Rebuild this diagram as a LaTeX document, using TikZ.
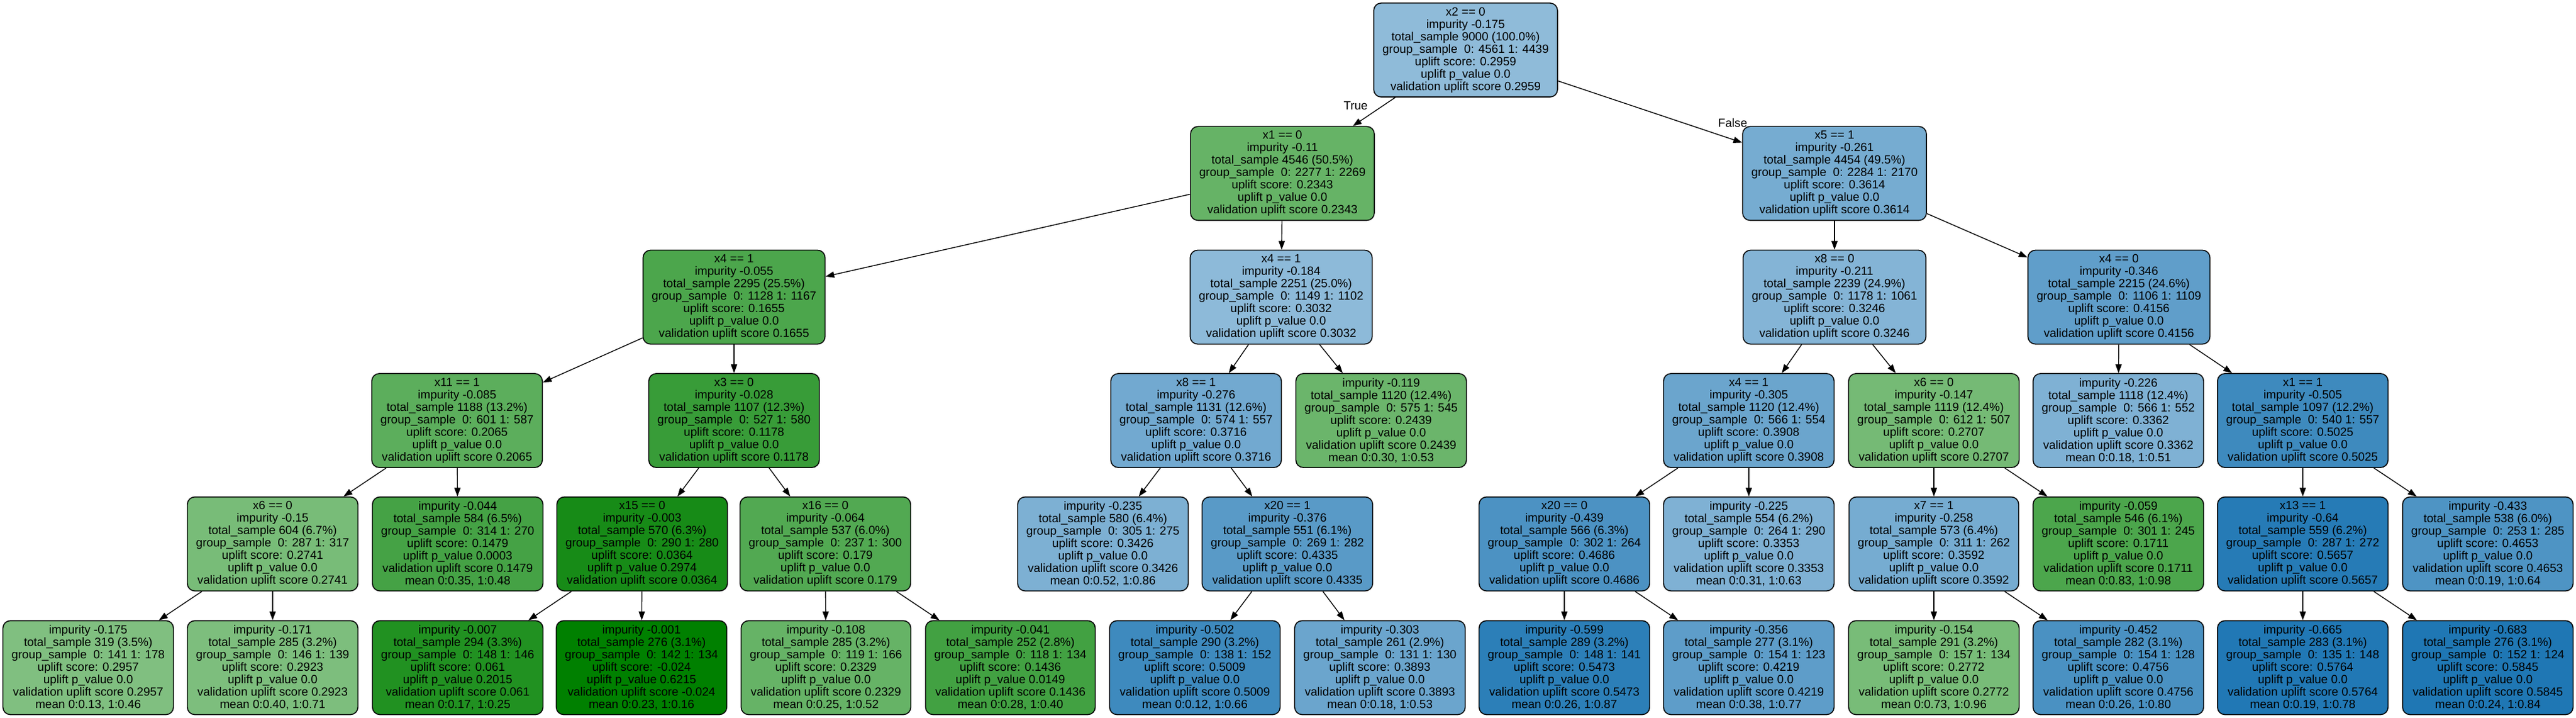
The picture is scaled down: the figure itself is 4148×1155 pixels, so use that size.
\documentclass[tikz,border=0pt]{standalone}
\usepackage{fontspec}
\setmainfont{Liberation Sans}
\usepackage{xcolor}
\usepackage{tikz}
\usetikzlibrary{arrows.meta}

\definecolor{upblue}{RGB}{31,119,180}
\definecolor{upgreen}{RGB}{0,128,0}

\begin{document}
\begin{tikzpicture}[x=0.01cm, y=-0.01cm,
    treenode/.style={draw, line width=0.45pt, rounded corners=0.12cm, align=center,
      inner xsep=0.14cm, inner ysep=0.05cm, minimum height=1.51cm,
      font=\fontsize{5.43}{5.69}\selectfont},
    branch/.style={-{Triangle[length=0.14cm, width=0.1cm]}, line width=0.4pt},
    branchlabel/.style={font=\fontsize{5.43}{5.69}\selectfont, inner sep=0pt}]
  \useasboundingbox (0,0) rectangle (4148,1155);

  % split nodes
  \foreach \nm/\px/\py/\col/\cond/\imp/\tot/\pc/\ga/\gb/\sc/\pv in {
      n1/2360/80.5/upblue!50!white/x2 == 0/-0.175/9000/100.0/4561/4439/0.2959/0.0,
      n2/2065/279/upgreen!60!white/x1 == 0/-0.11/4546/50.5/2277/2269/0.2343/0.0,
      n3/2954/279/upblue!61!white/x5 == 1/-0.261/4454/49.5/2284/2170/0.3614/0.0,
      n4/1182/478/upgreen!70!white/x4 == 1/-0.055/2295/25.5/1128/1167/0.1655/0.0,
      n5/2063/478/upblue!51!white/x4 == 1/-0.184/2251/25.0/1149/1102/0.3032/0.0,
      n6/2954/478/upblue!55!white/x8 == 0/-0.211/2239/24.9/1178/1061/0.3246/0.0,
      n7/3412/478/upblue!71!white/x4 == 0/-0.346/2215/24.6/1106/1109/0.4156/0.0,
      n8/736/676.5/upgreen!64!white/x11 == 1/-0.085/1188/13.2/601/587/0.2065/0.0,
      n9/1182/676.5/upgreen!78!white/x3 == 0/-0.028/1107/12.3/527/580/0.1178/0.0,
      n10/1926/676.5/upblue!63!white/x8 == 1/-0.276/1131/12.6/574/557/0.3716/0.0,
      n12/2816/676.5/upblue!66!white/x4 == 1/-0.305/1120/12.4/566/554/0.3908/0.0,
      n13/3114/676.5/upgreen!54!white/x6 == 0/-0.147/1119/12.4/612/507/0.2707/0.0,
      n15/3708/676.5/upblue!86!white/x1 == 1/-0.505/1097/12.2/540/557/0.5025/0.0,
      n16/439/875/upgreen!53!white/x6 == 0/-0.15/604/6.7/287/317/0.2741/0.0,
      n18/1034/875/upgreen!91!white/x15 == 0/-0.003/570/6.3/290/280/0.0364/0.2974,
      n19/1329/875/upgreen!68!white/x16 == 0/-0.064/537/6.0/237/300/0.179/0.0,
      n21/2073/875/upblue!74!white/x20 == 1/-0.376/551/6.1/269/282/0.4335/0.0,
      n22/2519/875/upblue!80!white/x20 == 0/-0.439/566/6.3/302/264/0.4686/0.0,
      n24/3114/875/upblue!61!white/x7 == 1/-0.258/573/6.4/311/262/0.3592/0.0,
      n26/3708/875/upblue!97!white/x13 == 1/-0.64/559/6.2/287/272/0.5657/0.0}{%
    \node[treenode, fill=\col] (\nm) at (\px,\py) {\cond\\impurity \imp\\total\_sample \tot\ (\pc\%)\\group\_sample\ \ 0: \ga\ 1: \gb\\uplift score: \sc\\uplift p\_value \pv\\validation uplift score \sc};
  }

  % leaves
  \foreach \nm/\px/\py/\col/\imp/\tot/\pc/\ga/\gb/\sc/\pv/\ma/\mb in {
      n11/2224/676.5/upgreen!58!white/-0.119/1120/12.4/575/545/0.2439/0.0/0.30/0.53,
      n14/3411/676.5/upblue!57!white/-0.226/1118/12.4/566/552/0.3362/0.0/0.18/0.51,
      n17/737/875/upgreen!73!white/-0.044/584/6.5/314/270/0.1479/0.0003/0.35/0.48,
      n20/1776/875/upblue!58!white/-0.235/580/6.4/305/275/0.3426/0.0/0.52/0.86,
      n23/2816/875/upblue!57!white/-0.225/554/6.2/264/290/0.3353/0.0/0.31/0.63,
      n25/3411/875/upgreen!70!white/-0.059/546/6.1/301/245/0.1711/0.0/0.83/0.98,
      n27/4006/875/upblue!79!white/-0.433/538/6.0/253/285/0.4653/0.0/0.19/0.64,
      n28/142/1074/upgreen!50!white/-0.175/319/3.5/141/178/0.2957/0.0/0.13/0.46,
      n29/439/1074/upgreen!51!white/-0.171/285/3.2/146/139/0.2923/0.0/0.40/0.71,
      n30/737/1074/upgreen!87!white/-0.007/294/3.3/148/146/0.061/0.2015/0.17/0.25,
      n31/1033/1074/upgreen!100!white/-0.001/276/3.1/142/134/-0.024/0.6215/0.23/0.16,
      n32/1330/1074/upgreen!60!white/-0.108/285/3.2/119/166/0.2329/0.0/0.25/0.52,
      n33/1627/1074/upgreen!74!white/-0.041/252/2.8/118/134/0.1436/0.0149/0.28/0.40,
      n34/1924/1074/upblue!86!white/-0.502/290/3.2/138/152/0.5009/0.0/0.12/0.66,
      n35/2222/1074/upblue!66!white/-0.303/261/2.9/131/130/0.3893/0.0/0.18/0.53,
      n36/2519/1074/upblue!94!white/-0.599/289/3.2/148/141/0.5473/0.0/0.26/0.87,
      n37/2816/1074/upblue!72!white/-0.356/277/3.1/154/123/0.4219/0.0/0.38/0.77,
      n38/3114/1074/upgreen!53!white/-0.154/291/3.2/157/134/0.2772/0.0/0.73/0.96,
      n39/3411/1074/upblue!81!white/-0.452/282/3.1/154/128/0.4756/0.0/0.26/0.80,
      n40/3708/1074/upblue!99!white/-0.665/283/3.1/135/148/0.5764/0.0/0.19/0.78,
      n41/4006/1074/upblue!100!white/-0.683/276/3.1/152/124/0.5845/0.0/0.24/0.84}{%
    \node[treenode, fill=\col] (\nm) at (\px,\py) {impurity \imp\\total\_sample \tot\ (\pc\%)\\group\_sample\ \ 0: \ga\ 1: \gb\\uplift score: \sc\\uplift p\_value \pv\\validation uplift score \sc\\mean 0:\ma, 1:\mb};
  }

  \foreach \a/\b in {n1/n2, n1/n3, n2/n4, n2/n5, n3/n6, n3/n7, n4/n8, n4/n9, n5/n10, n5/n11,
      n6/n12, n6/n13, n7/n14, n7/n15, n8/n16, n8/n17, n9/n18, n9/n19, n10/n20, n10/n21,
      n12/n22, n12/n23, n13/n24, n13/n25, n15/n26, n15/n27, n16/n28, n16/n29, n18/n30, n18/n31,
      n19/n32, n19/n33, n21/n34, n21/n35, n22/n36, n22/n37, n24/n38, n24/n39, n26/n40, n26/n41}{%
    \draw[branch] (\a) -- (\b);
  }

  \node[branchlabel] (truelab) at (2183,170) {True};
  \node[branchlabel] (falselab) at (2790,198) {False};
\end{tikzpicture}
\end{document}
